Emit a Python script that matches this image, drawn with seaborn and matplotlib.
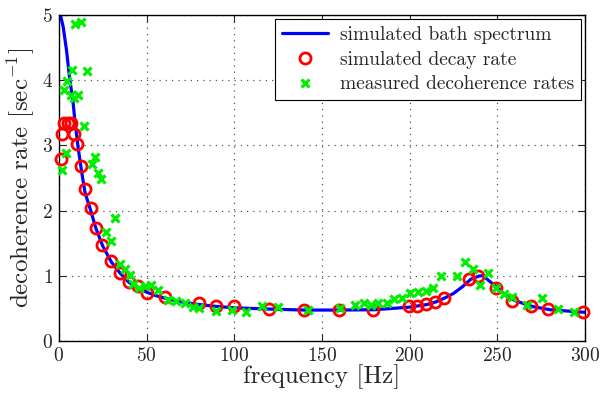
import numpy as np
import matplotlib
matplotlib.use("Agg")
import matplotlib.pyplot as plt
import seaborn as sns

# simulated bath spectrum (blue line)
spec_freq = [0.5, 2.5, 4.4, 6.3, 8.0, 9.1, 11, 13, 15, 18, 21, 25, 30, 35, 40, 45, 50, 55,
             60, 70, 80, 90, 100, 120, 140, 160, 180, 200, 210, 215, 220, 225, 230, 235,
             240, 242, 245, 250, 255, 260, 270, 280, 290, 300]
spec_rate = [5.05, 4.82, 4.46, 4.0, 3.7, 3.4, 2.97, 2.6, 2.27, 2.02, 1.74, 1.46, 1.21, 1.04,
             0.9, 0.82, 0.75, 0.7, 0.66, 0.6, 0.56, 0.53, 0.51, 0.49, 0.475, 0.475, 0.48,
             0.52, 0.56, 0.6, 0.66, 0.73, 0.83, 0.95, 1.0, 1.0, 0.93, 0.82, 0.7, 0.62,
             0.53, 0.48, 0.46, 0.44]

# simulated decay rate (red circles)
sim_freq = [1.1, 1.9, 3.0, 5.2, 7.2, 8.5, 10.2, 12.4, 15.2, 18.4, 21.2, 24.9, 30.0, 35.0,
            40.0, 45.2, 50.0, 60.3, 80.2, 89.8, 99.9, 119.8, 139.9, 159.7, 179.3, 199.5,
            204.5, 209.3, 214.3, 219.4, 234.0, 239.2, 249.5, 258.6, 269.2, 279.1, 299.0]
sim_rate = [2.79, 3.17, 3.34, 3.34, 3.34, 3.17, 3.02, 2.69, 2.33, 2.04, 1.73, 1.47, 1.23,
            1.05, 0.90, 0.85, 0.74, 0.68, 0.58, 0.54, 0.53, 0.49, 0.475, 0.475, 0.48, 0.53,
            0.54, 0.57, 0.60, 0.66, 0.95, 0.99, 0.82, 0.62, 0.54, 0.49, 0.44]

# measured decoherence rates (green crosses)
meas_freq = [2.0, 3.0, 3.9, 4.9, 6.7, 7.5, 8.6, 9.1, 11.0, 12.7, 14.6, 16.2, 19.0, 20.5,
             22.6, 24.3, 27.0, 29.7, 32.3, 35.0, 37.6, 40.5, 42.4, 46.0, 49.1, 52.5, 56.5,
             62.0, 67.0, 71.7, 76.3, 80.0, 89.5, 98.5, 107.0, 115.8, 124.8, 142.2, 160.3,
             169.0, 173.8, 178.2, 182.2, 186.9, 191.3, 195.8, 200.2, 205.0, 209.3, 213.5,
             218.0, 227.0, 231.6, 236.0, 240.2, 244.7, 249.3, 253.8, 258.2, 267.2, 275.5,
             284.8, 293.8]
meas_rate = [2.63, 3.85, 2.88, 3.99, 3.78, 4.15, 3.73, 4.86, 3.77, 4.90, 3.30, 4.14, 2.72,
             2.82, 2.58, 2.48, 1.68, 1.54, 1.88, 1.18, 1.10, 1.01, 0.88, 0.82, 0.84, 0.86,
             0.78, 0.63, 0.62, 0.59, 0.52, 0.50, 0.46, 0.48, 0.44, 0.54, 0.52, 0.48, 0.50,
             0.55, 0.59, 0.56, 0.58, 0.59, 0.64, 0.66, 0.73, 0.75, 0.77, 0.82, 1.00, 1.00,
             1.21, 1.10, 0.86, 1.05, 0.81, 0.72, 0.68, 0.55, 0.66, 0.49, 0.44]

sns.set_style("ticks")
plt.rcParams["font.family"] = ["cmr10", "DejaVu Serif"]
plt.rcParams["mathtext.fontset"] = "cm"
plt.rcParams["axes.formatter.use_mathtext"] = True

fig = plt.figure(figsize=(6.0, 3.97), dpi=100)
ax = fig.add_axes([0.098, 0.141, 0.877, 0.821])

sns.lineplot(x=spec_freq, y=spec_rate, ax=ax, color="#0000ff", linewidth=2.3,
             sort=False, estimator=None, label="simulated bath spectrum", zorder=2)
sns.lineplot(x=sim_freq, y=sim_rate, ax=ax, linestyle="", marker="o", markersize=8,
             markerfacecolor="none", markeredgecolor="#ff0000", markeredgewidth=2,
             sort=False, estimator=None, label="simulated decay rate", zorder=3,
             clip_on=False)
sns.lineplot(x=meas_freq, y=meas_rate, ax=ax, linestyle="", marker="x", markersize=5.5,
             markeredgecolor="#00ee00", markeredgewidth=2.3, color="#00ee00",
             sort=False, estimator=None, label="measured decoherence rates", zorder=4,
             clip_on=False)

ax.set_xlim(0, 300)
ax.set_ylim(0, 5)
ax.set_xticks([0, 50, 100, 150, 200, 250, 300])
ax.set_yticks([0, 1, 2, 3, 4, 5])
ax.grid(True, linestyle=(0, (1, 4)), color="#555555", linewidth=0.9)
for s in ax.spines.values():
    s.set_visible(True)
    s.set_linewidth(1.0)
    s.set_color("black")
ax.tick_params(direction="in", top=True, right=True, labelsize=14, length=5, pad=4)

ax.set_xlabel("frequency [Hz]", fontsize=18, labelpad=0)
ax.set_ylabel("decoherence rate [sec$^{-1}$]", fontsize=18, labelpad=4)

leg = ax.legend(loc="upper right", fontsize=14, frameon=True, fancybox=False,
                edgecolor="black", framealpha=1, borderaxespad=0.2, handlelength=2.4,
                labelspacing=0.35, borderpad=0.35, handletextpad=0.6)
leg.get_frame().set_linewidth(0.8)

fig.savefig("out.png", dpi=100)
